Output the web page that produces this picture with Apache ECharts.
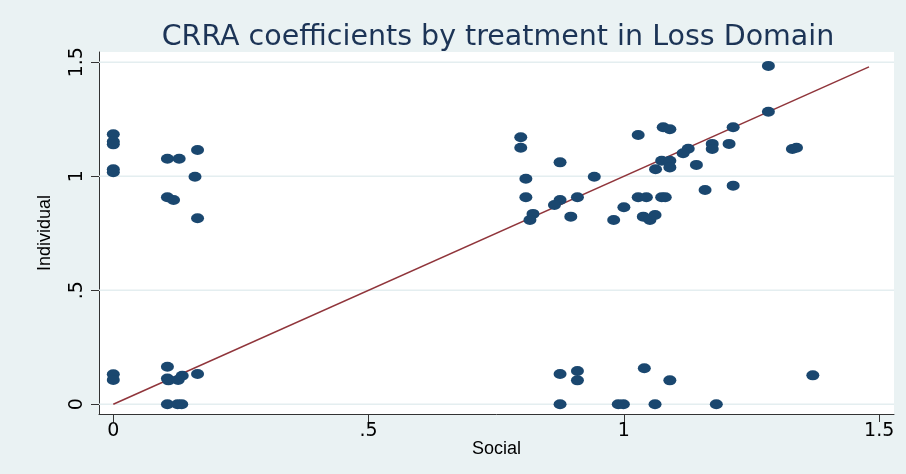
<!DOCTYPE html>
<html>
<head>
<meta charset="utf-8">
<title>CRRA coefficients - Loss Domain</title>
<script src="https://cdn.jsdelivr.net/npm/echarts@6/dist/echarts.min.js"></script>
<style>
  html, body { margin: 0; padding: 0; background: #eaf2f3; }
  #chart { width: 906px; height: 474px; }
</style>
</head>
<body>
<div id="chart"></div>
<script>
// CRRA coefficient pairs (social, individual)
var social = [
  0, 0, 0, 0, 0, 0, 0,
  0.106, 0.129, 0.165, 0.160, 0.106, 0.118, 0.165,
  0.106, 0.106, 0.108, 0.127, 0.135, 0.165, 0.106, 0.126, 0.134,
  0.798, 0.798, 0.875, 1.028, 0.808, 0.942, 0.808, 0.875, 0.864, 0.909,
  0.822, 0.816, 0.896, 0.980, 1.000, 1.028, 1.044, 1.038, 1.051, 1.061,
  1.077, 1.090, 1.214, 1.173, 1.173, 1.206, 1.126, 1.116, 1.142,
  1.074, 1.090, 1.090, 1.062, 1.159, 1.214, 1.074, 1.081,
  1.283, 1.283, 1.330, 1.338,
  0.875, 0.909, 0.909, 1.040, 1.090, 1.370,
  0.875, 0.989, 0.999, 1.061, 1.181
];
var individual = [
  1.184, 1.152, 1.140, 1.031, 1.018, 0.132, 0.107,
  1.077, 1.077, 1.115, 0.998, 0.908, 0.896, 0.816,
  0.165, 0.113, 0.105, 0.107, 0.125, 0.133, 0, 0, 0,
  1.171, 1.125, 1.061, 1.181, 0.989, 0.998, 0.908, 0.896, 0.874, 0.908,
  0.835, 0.808, 0.823, 0.808, 0.864, 0.908, 0.908, 0.823, 0.808, 0.830,
  1.215, 1.206, 1.215, 1.142, 1.120, 1.142, 1.121, 1.101, 1.050,
  1.068, 1.068, 1.039, 1.031, 0.940, 0.959, 0.908, 0.908,
  1.484, 1.283, 1.120, 1.125,
  0.133, 0.146, 0.105, 0.158, 0.105, 0.127,
  0, 0, 0, 0, 0
];
var fitX = [0, 1.48];
var fitY = [0, 1.48];
var tickValues = [0, 0.5, 1, 1.5];
var tickLabels = ['0', '.5', '1', '1.5'];

var xMin = -0.028, xMax = 1.529;
var yMin = -0.0425, yMax = 1.545;

var points = social.map(function (x, i) { return [x, individual[i]]; });
var fitLine = fitX.map(function (x, i) { return [x, fitY[i]]; });

function tickText(v) {
  var idx = tickValues.indexOf(v);
  return idx >= 0 ? tickLabels[idx] : '';
}

// light horizontal grid lines at the ticks, drawn under the markers
var gridSeries = tickValues.map(function (v) {
  return {
    type: 'line',
    data: [[xMin, v], [xMax, v]],
    showSymbol: false,
    silent: true,
    lineStyle: { color: '#e4eef0', width: 1.5 },
    z: 1
  };
});

var chart = echarts.init(document.getElementById('chart'));
chart.setOption({
  backgroundColor: '#eaf2f3',
  animation: false,
  title: {
    text: 'CRRA coefficients by treatment in Loss Domain',
    left: 493,
    textAlign: 'center',
    top: 18,
    textStyle: {
      fontFamily: 'DejaVu Sans',
      fontSize: 28.5,
      fontWeight: 'normal',
      color: '#1c3456'
    }
  },
  grid: {
    left: 99,
    right: 12,
    top: 52,
    bottom: 60,
    show: true,
    backgroundColor: '#ffffff',
    borderWidth: 0
  },
  xAxis: {
    type: 'value',
    min: xMin,
    max: xMax,
    name: 'Social',
    nameLocation: 'middle',
    nameGap: 26,
    nameMoveOverlap: false,
    nameTextStyle: { fontFamily: 'Liberation Sans', fontSize: 18, color: '#000' },
    axisLine: { show: true, onZero: false, lineStyle: { color: '#333', width: 1 } },
    axisTick: { show: true, length: 8, customValues: tickValues, lineStyle: { color: '#333' } },
    axisLabel: {
      customValues: tickValues,
      formatter: tickText,
      fontFamily: 'DejaVu Sans',
      fontSize: 19,
      color: '#000',
      margin: 8
    },
    splitLine: { show: false }
  },
  yAxis: {
    type: 'value',
    min: yMin,
    max: yMax,
    name: 'Individual',
    nameLocation: 'middle',
    nameGap: 45,
    nameRotate: 90,
    nameTextStyle: { fontFamily: 'Liberation Sans', fontSize: 18, color: '#000' },
    axisLine: { show: true, onZero: false, lineStyle: { color: '#333', width: 1 } },
    axisTick: { show: true, length: 8, customValues: tickValues, lineStyle: { color: '#333' } },
    axisLabel: {
      customValues: tickValues,
      formatter: tickText,
      rotate: 90,
      fontFamily: 'DejaVu Sans',
      fontSize: 19,
      color: '#000',
      margin: 12
    },
    splitLine: { show: false }
  },
  series: gridSeries.concat([
    {
      name: 'fit',
      type: 'line',
      data: fitLine,
      showSymbol: false,
      lineStyle: { color: '#90353b', width: 1.5 },
      z: 3
    },
    {
      name: 'CRRA',
      type: 'scatter',
      data: points,
      symbol: 'circle',
      symbolSize: [13, 10],
      itemStyle: { color: '#1a476f', opacity: 1 },
      z: 4
    }
  ])
});
</script>
</body>
</html>
